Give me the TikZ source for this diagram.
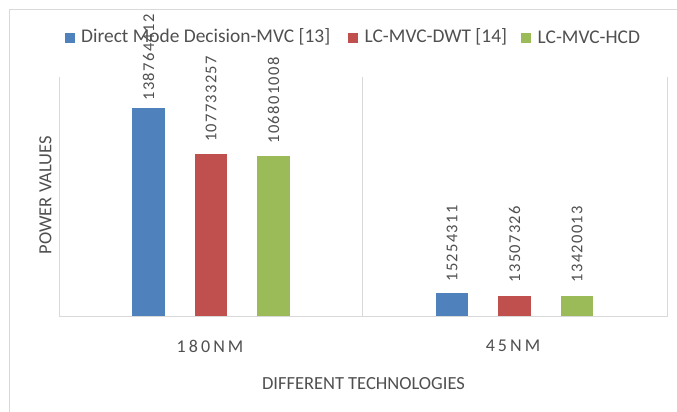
\documentclass[tikz,border=0pt]{standalone}
\usepackage{fontspec}
\setmainfont{Carlito}
\usetikzlibrary{calc}
\definecolor{serA}{HTML}{4F81BD}
\definecolor{serB}{HTML}{C0504D}
\definecolor{serC}{HTML}{9BBB59}
\definecolor{txtgray}{HTML}{505050}
\definecolor{linegray}{HTML}{D9D9D9}
\tikzset{
  frameline/.style={draw=linegray, line width=1pt},
  gridline/.style={draw=linegray, line width=0.9pt},
  barbox/.style={draw=none, inner sep=0pt, minimum width=32.5pt, anchor=south},
  vallabel/.style={rotate=90, anchor=west, inner sep=0pt, text=txtgray,
    font=\fontsize{16.5}{18}\selectfont\addfontfeature{LetterSpace=8}},
  catlabel/.style={inner sep=0pt, text=txtgray,
    font=\fontsize{18}{20}\selectfont\addfontfeature{LetterSpace=17}},
  axtitle/.style={inner sep=0pt, text=txtgray, font=\fontsize{18.5}{20}\selectfont},
  legtext/.style={inner sep=0pt, anchor=west, text=txtgray, font=\fontsize{19.4}{21}\selectfont},
  legsq/.style={inner sep=0pt, minimum size=10pt, draw=none}
}
\begin{document}
\begin{tikzpicture}[x=1pt,y=-1pt]
\useasboundingbox (0,0) rectangle (677,412);
\fill[white] (0,0) rectangle (677,412);
% outer frame
\draw[frameline] (677,10) -- (9.5,10) -- (9.5,412);
% plot area lines
\draw[gridline] (59,77) -- (59,316) -- (667,316) -- (667,77);
\draw[gridline] (362,77) -- (362,316);
% bars
\node[barbox, fill=serA, minimum height=208pt]   (a1) at (148.5,316) {};
\node[barbox, fill=serB, minimum height=161.5pt] (b1) at (211,316) {};
\node[barbox, fill=serC, minimum height=160pt]   (c1) at (273.5,316) {};
\node[barbox, fill=serA, minimum height=22.9pt]  (a2) at (452,316) {};
\node[barbox, fill=serB, minimum height=20.2pt]  (b2) at (514.5,316) {};
\node[barbox, fill=serC, minimum height=20.1pt]  (c2) at (577,316) {};
% value labels
\node[vallabel] (la1) at ($(a1.north)+(0,-7)$) {138764412};
\node[vallabel] (lb1) at ($(b1.north)+(0,-12)$) {107733257};
\node[vallabel] (lc1) at ($(c1.north)+(0,-12)$) {106801008};
\node[vallabel] (la2) at ($(a2.north)+(0,-11)$) {15254311};
\node[vallabel] (lb2) at ($(b2.north)+(0,-13)$) {13507326};
\node[vallabel] (lc2) at ($(c2.north)+(0,-13)$) {13420013};
% category labels
\node[catlabel] (cat1) at (210,346) {180NM};
\node[catlabel] (cat2) at (513,346) {45NM};
% axis titles
\node[axtitle] (xt) at (363.5,384) {DIFFERENT\kern4pt TECHNOLOGIES};
\node[axtitle, rotate=90] (yt) at (45.5,195) {POWER VALUES};
% legend
\node[legsq, fill=serA] (s1) at (69.5,38) {};
\node[legtext] (t1) at (81,37) {Direct Mode Decision-MVC [13]};
\node[legsq, fill=serB] (s2) at (353,38) {};
\node[legtext] (t2) at (364.5,37) {LC-MVC-DWT [14]};
\node[legsq, fill=serC] (s3) at (526,38) {};
\node[legtext] (t3) at (537.5,37) {LC-MVC-HCD};
\end{tikzpicture}
\end{document}
